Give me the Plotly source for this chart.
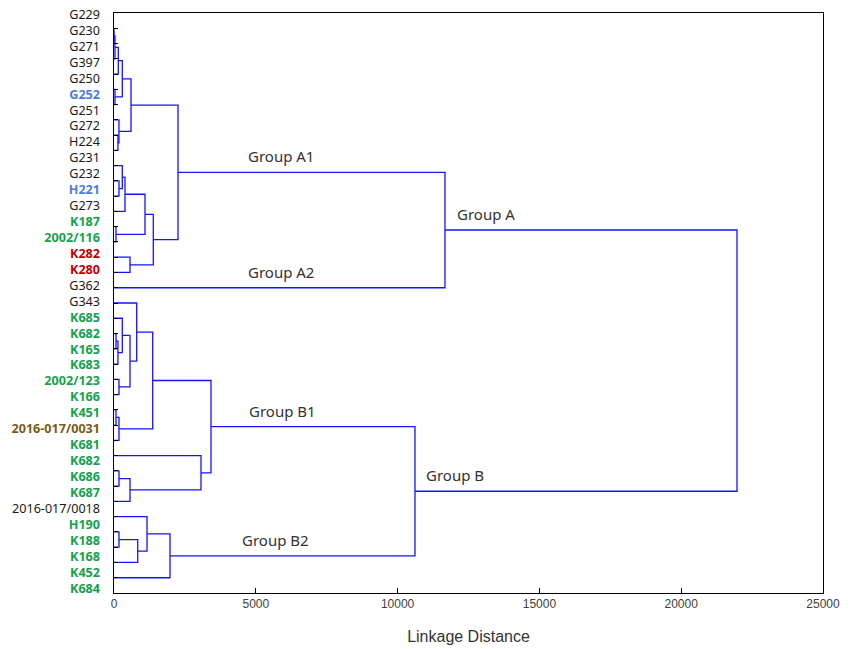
import numpy as np
import plotly.graph_objects as go

# ---- data -------------------------------------------------------------
leaves = ["G229", "G230", "G271", "G397", "G250", "G252", "G251", "G272", "H224",
          "G231", "G232", "H221", "G273", "K187", "2002/116", "K282", "K280", "G362",
          "G343", "K685", "K682", "K165", "K683", "2002/123", "K166", "K451",
          "2016-017/0031", "K681", "K682", "K686", "K687", "2016-017/0018",
          "H190", "K188", "K168", "K452", "K684"]

# label colour class per leaf: k=black, b=blue, g=green, r=red, o=brown
leaf_class = ["k", "k", "k", "k", "k", "b", "k", "k", "k",
              "k", "k", "b", "k", "g", "g", "r", "r", "k",
              "k", "g", "g", "g", "g", "g", "g", "g",
              "o", "g", "g", "g", "g", "k",
              "g", "g", "g", "g", "g"]

# merges: (node a, node b, linkage distance); new node ids start at len(leaves)
merges = [
    (0, 1, 5), (37, 2, 35), (38, 3, 152), (4, 5, 35), (39, 40, 293),
    (7, 8, 140), (6, 42, 175), (41, 43, 600),
    (10, 11, 176), (9, 45, 293), (46, 12, 388), (13, 14, 70), (47, 48, 1093),
    (15, 16, 564), (49, 50, 1386),
    (44, 51, 2257),          # Group A1
    (52, 17, 11671),         # Group A
    (20, 21, 70), (54, 22, 140), (19, 55, 293), (23, 24, 176), (56, 57, 564),
    (18, 58, 800), (25, 26, 70), (60, 27, 176), (59, 61, 1365),
    (29, 30, 176), (63, 31, 564), (28, 64, 3068),
    (62, 65, 3420),          # Group B1
    (33, 34, 176), (67, 35, 836), (32, 68, 1164), (69, 36, 1975),  # Group B2
    (66, 70, 10613),         # Group B
    (53, 71, 21968),
]

group_names = ["Group A1", "Group A2", "Group A", "Group B1", "Group B2", "Group B"]
group_nodes = [52, 17, 53, 66, 70, 71]
group_text_x = [5900, 5900, 13100, 5940, 5700, 12040]

x_ticks = [0, 5000, 10000, 15000, 20000, 25000]

# ---- layout of the tree --------------------------------------------------
n = len(leaves)
pos = {i: (float(i), 0.0) for i in range(n)}
xs, ys = [], []
for k, (a, b, d) in enumerate(merges):
    ya, ha = pos[a]
    yb, hb = pos[b]
    xs += [ha, d, d, hb, None]
    ys += [ya, ya, yb, yb, None]
    pos[n + k] = ((ya + yb) / 2.0, d)

colors = {"k": "#1a1a1a", "b": "#4a7de0", "g": "#13a14c", "r": "#c00000", "o": "#7a5b14"}
ticktext = []
for name, c in zip(leaves, leaf_class):
    if c == "k":
        ticktext.append(f"<span style='color:{colors[c]}'>{name}</span>")
    else:
        ticktext.append(f"<span style='color:{colors[c]}'><b>{name}</b></span>")

label_pos = np.linspace(-0.9, 36.68, n)

fig = go.Figure()
fig.add_trace(go.Scatter(x=xs, y=ys, mode="lines",
                         line=dict(color="#1414ff", width=1.3),
                         hoverinfo="skip", showlegend=False))
fig.add_trace(go.Scatter(x=[0], y=[0], yaxis="y2", mode="markers",
                         marker=dict(opacity=0), hoverinfo="skip", showlegend=False))

for name, node, gx in zip(group_names, group_nodes, group_text_x):
    fig.add_annotation(x=gx, y=pos[node][0], text=name, showarrow=False,
                       yshift=16, font=dict(family="Noto Sans", size=15, color="#333333"))

fig.update_layout(
    width=851, height=649,
    margin=dict(l=114, r=28, t=13, b=56),
    paper_bgcolor="white", plot_bgcolor="white",
    xaxis=dict(range=[0, 25000], tickvals=x_ticks, ticktext=[str(v) for v in x_ticks],
               ticks="inside", ticklen=5, tickcolor="#000", showline=True, mirror=True,
               linecolor="#000", linewidth=1, showgrid=False, zeroline=False,
               automargin=False,
               tickfont=dict(family="Liberation Sans", size=12, color="#404040"),
               title=dict(text="Linkage Distance", standoff=20,
                          font=dict(family="Liberation Sans", size=16, color="#333333"))),
    yaxis=dict(range=[37, -1], tickvals=list(range(n)), showticklabels=False,
               ticks="inside", ticklen=4, tickcolor="#000", showline=True, mirror=True,
               linecolor="#000", linewidth=1, showgrid=False, zeroline=False,
               automargin=False),
    yaxis2=dict(range=[37, -1], overlaying="y", side="left", anchor="x",
                tickvals=list(label_pos), ticktext=ticktext, ticks="",
                showline=False, showgrid=False, zeroline=False,
                ticklabelstandoff=13, automargin=False,
                tickfont=dict(family="Noto Sans", size=12.6, color="#1a1a1a")),
)

fig.write_html("out.html")
